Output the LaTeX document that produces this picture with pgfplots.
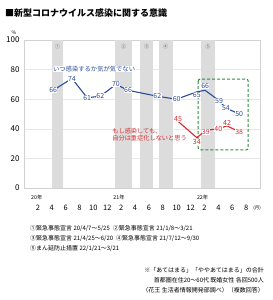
\documentclass[border=0pt]{standalone}
\usepackage{fontspec}
\setmainfont{Noto Sans CJK JP}
\usepackage{pgfplots}
\usepackage{pgfplotstable}
\pgfplotsset{compat=1.18}
\definecolor{cblue}{HTML}{2B4C9B}
\definecolor{cred}{HTML}{D52A2F}
\definecolor{cgreen}{HTML}{2F8C3C}
\definecolor{band}{HTML}{DCDCDC}

\pgfplotstableread{
x y lab dy
4.2 66 66 0
6.9 74 74 -1
9.1 61 61 0
11.0 62 62 0
13.25 70 70 0
15.0 66 66 0
19.2 62 62 0
22.0 60 60 0
24.9 65 65 -3
26.1 66 66 4
28.1 59 59 0
29.1 54 54 0
31.0 50 50 0
}\blueData

\pgfplotstableread{
x y lab dy
22.2 45 45 2
24.9 34 34 -4
26.2 39 39 -2
28.0 40 40 0
29.25 42 42 3
31.0 38 38 0
}\redData

\begin{document}
\begin{tikzpicture}
\path[use as bounding box] (-24pt,-112pt) rectangle (249pt,188pt);
\begin{axis}[
  scale only axis, width=236pt, height=148pt,
  xmin=0, xmax=34, ymin=0, ymax=100,
  clip=false,
  axis line style={gray!35, line width=0.4pt},
  ytick={0,20,...,100},
  xtick={2,4,...,32},
  xticklabels={2,4,6,8,10,12,2,4,6,8,10,12,2,4,6,8},
  major tick length=0pt,
  ymajorgrids, grid style={gray!18, line width=0.6pt},
  /pgf/number format/assume math mode=true,
  yticklabel style={font=\fontsize{8}{8}\selectfont, xshift=-1pt},
  xticklabel style={font=\fontsize{7.5}{8}\selectfont, anchor=center, yshift=-20pt},
]
% bands
\addplot[fill=band, draw=none] coordinates {(4.05,100) (5.65,100)} \closedcycle;
\addplot[fill=band, draw=none] coordinates {(13.1,100) (15.6,100)} \closedcycle;
\addplot[fill=band, draw=none] coordinates {(16.7,100) (18.6,100)} \closedcycle;
\addplot[fill=band, draw=none] coordinates {(19.45,100) (21.4,100)} \closedcycle;
\addplot[fill=band, draw=none] coordinates {(25.5,100) (27.5,100)} \closedcycle;
\foreach \xx/\nn in {4.85/①,14.35/②,17.65/③,20.4/④,26.5/⑤}{
  \edef\tmp{\noexpand\node[font=\noexpand\fontsize{5}{5}\noexpand\selectfont, text=gray!80!black, inner sep=0pt] at (axis cs:\xx,95.5) {\nn};}
  \tmp
}
% green box
\draw[cgreen, line width=1pt, dash pattern=on 3pt off 2pt, rounded corners=2pt]
  (axis cs:25.1,73.6) rectangle (axis cs:32.3,25.7);
% series
\addplot[cblue, line width=1.1pt, mark=none,
  nodes near coords, point meta=explicit symbolic,
  visualization depends on={\thisrow{dy} \as \dy},
  every node near coord/.append style={anchor=center, yshift=\dy pt, fill=white, inner sep=0.4pt, text=cblue, font=\fontsize{7}{7}\selectfont}]
  table[x=x, y=y, meta=lab] {\blueData};
\addplot[cred, line width=1.1pt, mark=none,
  nodes near coords, point meta=explicit symbolic,
  visualization depends on={\thisrow{dy} \as \dy},
  every node near coord/.append style={anchor=center, yshift=\dy pt, fill=white, inner sep=0.4pt, text=cred, font=\fontsize{7}{7}\selectfont}]
  table[x=x, y=y, meta=lab] {\redData};
% annotations
\node[text=cblue, font=\fontsize{6.3}{7}\selectfont, fill=white, inner sep=0.5pt] at (axis cs:10.1,80.4) {いつ感染するか気が気でない};
\node[text=cred, font=\fontsize{6.2}{7}\selectfont, anchor=north west, align=left, inner sep=0pt] at (axis cs:12.7,40.5) {もし感染しても、\\自分は重症化しないと思う};
% year labels
\foreach \xx/\yy in {1/20年,12.85/21年,24.9/22年}{
  \edef\tmp{\noexpand\node[anchor=west, font=\noexpand\fontsize{5.3}{6}\noexpand\selectfont, inner sep=0pt] at (axis cs:\xx,0) [yshift=-9pt] {\yy};}
  \tmp
}
\node[font=\fontsize{4.5}{5}\selectfont, inner sep=0pt] at (axis cs:33.6,0) [yshift=-20pt] {(月)};
\end{axis}
\node[anchor=west,font=\bfseries\fontsize{9}{10}\selectfont,inner sep=0pt] at (-19pt,175pt) {■新型コロナウイルス感染に関する意識};
\node[font=\fontsize{5}{5}\selectfont,inner sep=0pt] at (-10pt,155pt) {\%};
% notes
\begin{scope}[every node/.style={font=\fontsize{6}{7}\selectfont, inner sep=0pt}]
\node[anchor=west] at (6pt,-40pt) {①緊急事態宣言 20/4/7～5/25\enspace ②緊急事態宣言 21/1/8～3/21};
\node[anchor=west] at (6pt,-50pt) {③緊急事態宣言 21/4/25～6/20\enspace ④緊急事態宣言 21/7/12～9/30};
\node[anchor=west] at (6pt,-60pt) {⑤まん延防止措置 22/1/21～3/21};
\node[anchor=east] at (240pt,-82pt) {※「あてはまる」「ややあてはまる」の合計};
\node[anchor=east] at (240pt,-92pt) {首都圏在住20～60代 既婚女性 各回500人};
\node[anchor=east] at (240pt,-102pt) {（花王 生活者情報開発部調べ）（複数回答）};
\end{scope}
\end{tikzpicture}
\end{document}
